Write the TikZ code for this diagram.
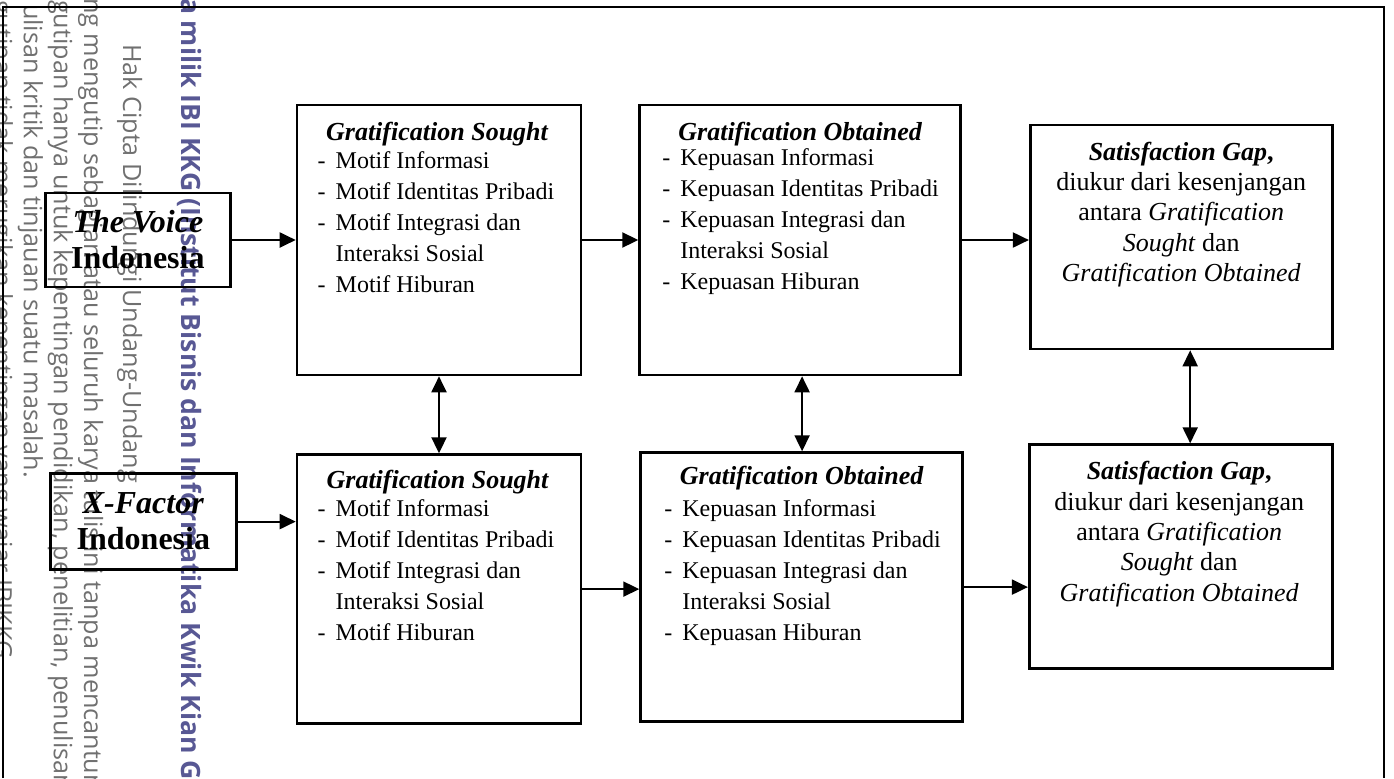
\documentclass[tikz,border=0pt]{standalone}
\usepackage{fontspec}
\setmainfont{Liberation Serif}
\newfontfamily\wmfont{Open Sans}
\usetikzlibrary{arrows.meta,positioning}
\definecolor{wmgrey}{RGB}{112,112,112}
\definecolor{wmblue}{RGB}{88,88,148}
\newcommand{\itm}[1]{\makebox[9pt][l]{-}#1}
\newcommand{\cnt}[1]{\hspace*{9pt}#1}

\begin{document}
\begin{tikzpicture}[x=0.5pt,y=-0.5pt,line width=1pt,
        >={Triangle[length=8pt,width=7.5pt]},
        main box/.style={draw,line width=1.3pt,inner sep=0pt},
        src box/.style={main box,align=center,font=\fontsize{16}{18}\selectfont\bfseries},
        title/.style={anchor=base,inner sep=0pt,font=\fontsize{13}{15}\selectfont\bfseries\itshape},
        list/.style={anchor=north west,align=left,inner sep=0pt,font=\fontsize{12}{15.5}\selectfont},
        gap text/.style={anchor=north,align=center,inner sep=0pt,font=\fontsize{13}{15.2}\selectfont},
        wm/.style={rotate=-90,anchor=base west,inner sep=0pt,text=wmgrey,font=\wmfont\fontsize{12.6}{14}\selectfont},
        wm bold/.style={wm,text=wmblue,font=\wmfont\bfseries\fontsize{13.3}{15}\selectfont}]

    \useasboundingbox (0,0) rectangle (1394,778);

    % watermark
    \begin{scope}
    \clip (0,0) rectangle (1394,778);
    \node[wm bold] (wm1) at (181,-3) {a milik IBI KKG (Institut Bisnis dan Informatika Kwik Kian G};
    \node[wm] (wm2) at (123,43) {Hak Cipta Dilindungi Undang-Undang};
    \node[wm] (wm3) at (84,-3) {ng mengutip sebagian atau seluruh karya tulis ini tanpa mencantum};
    \node[wm] (wm4) at (54,-1) {gutipan hanya untuk kepentingan pendidikan, penelitian, penulisan};
    \node[wm] (wm5) at (24,3) {ulisan kritik dan tinjauan suatu masalah.};
    \node[wm] (wm6) at (-6,-1) {gutipan tidak merugikan kepentingan yang wajar IBIKKG.};
    \end{scope}

    % frame
    \draw[line width=1.2pt] (3,778) -- (3,7) -- (1384,7) -- (1384,778);

    % boxes
    \node[main box,minimum width=142pt,minimum height=135pt] (gs1) at (439,240) {};
    \node[main box,minimum width=160.5pt,minimum height=135pt,right=28pt of gs1] (go1) {};
    \node[main box,minimum width=151pt,minimum height=112pt,right=33.5pt of go1,yshift=1.5pt] (sg1) {};
    \node[main box,minimum width=142pt,minimum height=134.5pt,below=38.5pt of gs1] (gs2) {};
    \node[main box,minimum width=161pt,minimum height=134.5pt,right=28.5pt of gs2,yshift=1pt] (go2) {};
    \node[main box,minimum width=151.5pt,minimum height=112pt,right=32pt of go2,yshift=15.25pt] (sg2) {};
    \node[src box,minimum width=92.5pt,minimum height=47pt,left=32pt of gs1] (voice) {\textit{The Voice}\\Indonesia};
    \node[src box,minimum width=93pt,minimum height=48pt,left=29pt of gs2,yshift=33.75pt] (xfactor) {\textit{X-Factor}\\Indonesia};

    % texts
    \node[title] (gs1t) at ([xshift=-1pt,yshift=-18.5pt]gs1.north) {Gratification Sought};
    \node[list] (gs1l) at ([xshift=10.5pt,yshift=-23.3pt]gs1.north west)
        {\itm{Motif Informasi}\\ \itm{Motif Identitas Pribadi}\\ \itm{Motif Integrasi dan}\\ \cnt{Interaksi Sosial}\\ \itm{Motif Hiburan}};
    \node[title] (go1t) at ([yshift=-18.5pt]go1.north) {Gratification Obtained};
    \node[list] (go1l) at ([xshift=11.5pt,yshift=-22pt]go1.north west)
        {\itm{Kepuasan Informasi}\\ \itm{Kepuasan Identitas Pribadi}\\ \itm{Kepuasan Integrasi dan}\\ \cnt{Interaksi Sosial}\\ \itm{Kepuasan Hiburan}};
    \node[gap text] (sg1t) at ([yshift=-8.5pt]sg1.north)
        {\textbf{\textit{Satisfaction Gap},}\\ diukur dari kesenjangan\\ antara \textit{Gratification}\\ \textit{Sought} dan\\ \textit{Gratification Obtained}};
    \node[title] (gs2t) at ([xshift=-0.75pt,yshift=-17.5pt]gs2.north) {Gratification Sought};
    \node[list] (gs2l) at ([xshift=10.5pt,yshift=-22.8pt]gs2.north west)
        {\itm{Motif Informasi}\\ \itm{Motif Identitas Pribadi}\\ \itm{Motif Integrasi dan}\\ \cnt{Interaksi Sosial}\\ \itm{Motif Hiburan}};
    \node[title] (go2t) at ([yshift=-16.5pt]go2.north) {Gratification Obtained};
    \node[list] (go2l) at ([xshift=12pt,yshift=-23.5pt]go2.north west)
        {\itm{Kepuasan Informasi}\\ \itm{Kepuasan Identitas Pribadi}\\ \itm{Kepuasan Integrasi dan}\\ \cnt{Interaksi Sosial}\\ \itm{Kepuasan Hiburan}};
    \node[gap text] (sg2t) at ([xshift=-0.75pt,yshift=-8.5pt]sg2.north)
        {\textbf{\textit{Satisfaction Gap},}\\ diukur dari kesenjangan\\ antara \textit{Gratification}\\ \textit{Sought} dan\\ \textit{Gratification Obtained}};

    % arrows
    \coordinate (goa) at ([xshift=1pt]go1.south);
    \coordinate (sga) at ([xshift=4.5pt]sg1.south);
    \draw[->] (voice) -- (gs1);
    \draw[->] (gs1) -- (go1);
    \draw[->] (go1.east) -- (go1.east -| sg1.west);
    \draw[->] (xfactor.east) -- (xfactor.east -| gs2.west);
    \draw[->] (gs2.east) -- (gs2.east -| go2.west);
    \draw[->] (go2.east) -- (go2.east -| sg2.west);
    \draw[<->] (gs1) -- (gs2);
    \draw[<->] (goa) -- (goa |- go2.north);
    \draw[<->] (sga) -- (sga |- sg2.north);
\end{tikzpicture}
\end{document}
